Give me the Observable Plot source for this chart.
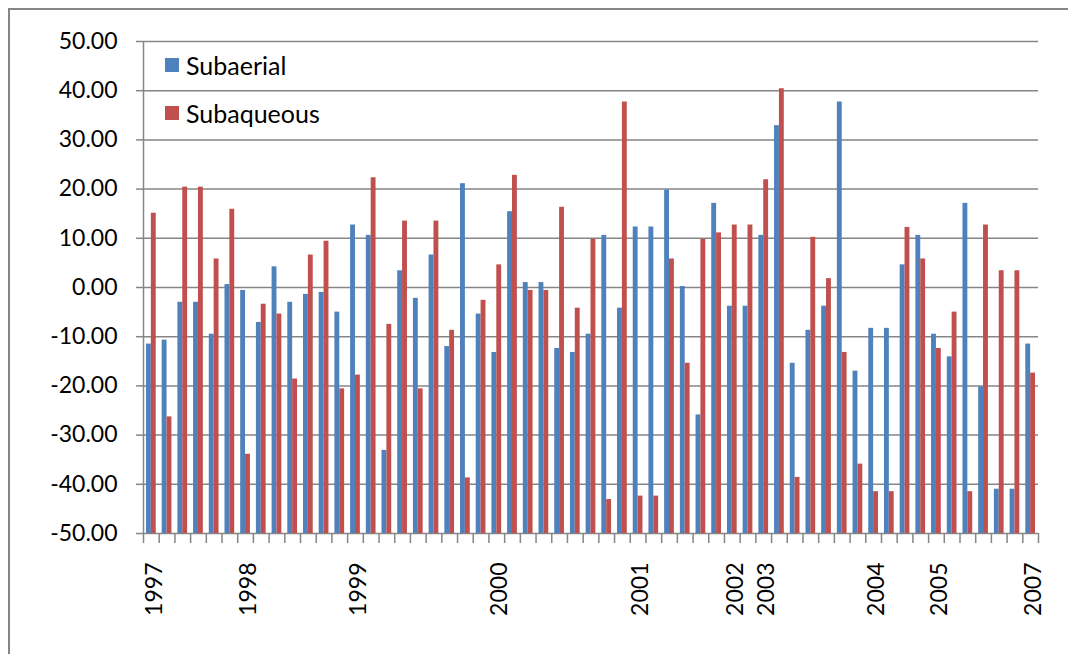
<!DOCTYPE html>
<html>
<head>
<meta charset="utf-8">
<script src="https://cdn.jsdelivr.net/npm/d3@7"></script>
<script src="https://cdn.jsdelivr.net/npm/@observablehq/plot@0.6"></script>
<style>
  html, body { margin: 0; padding: 0; background: #fff; }
  #wrap { position: relative; width: 1068px; height: 654px; overflow: hidden; background: #fff; }
  #border { position: absolute; left: 8px; top: 8px; width: 3000px; height: 3000px; border: 2px solid #868686; box-sizing: border-box; }
  #chart { position: absolute; left: 0; top: 0; }
  #legend { position: absolute; left: 165px; top: 41px; font-family: Lato, "Open Sans", sans-serif; font-size: 25px; color: #000; }
  .item { display: flex; align-items: center; height: 48px; }
  .sw { width: 14px; height: 14px; margin-right: 7px; }
</style>
</head>
<body>
<div id="wrap">
  <div id="border"></div>
  <div id="chart"></div>
  <div id="legend"></div>
</div>
<script>
// ---- data ----
const periodLabels = ["1997","","","","","","1998","","","","","","","1999","","","","","","","","","2000","","","","","","","","","2001","","","","","","2002","","2003","","","","","","","2004","","","","2005","","","","","","2007"];
const subaerial = [-11.5,-10.7,-3.0,-3.0,-9.5,0.6,-0.6,-7.1,4.2,-3.0,-1.4,-1.0,-5.0,12.7,10.6,-33.1,3.4,-2.2,6.6,-12.0,21.1,-5.4,-13.2,15.4,1.0,1.0,-12.4,-13.2,-9.5,10.6,-4.2,12.3,12.3,19.8,0.2,-25.9,17.1,-3.8,-3.8,10.6,32.9,-15.4,-8.7,-3.8,37.7,-17.0,-8.3,-8.3,4.6,10.6,-9.5,-14.1,17.1,-20.2,-41.0,-41.0,-11.5];
const subaqueous = [15.1,-26.3,20.4,20.4,5.8,15.9,-33.9,-3.4,-5.4,-18.6,6.6,9.4,-20.6,-17.8,22.3,-7.5,13.5,-20.6,13.5,-8.7,-38.7,-2.6,4.6,22.8,-0.6,-0.6,16.3,-4.2,9.8,-43.1,37.7,-42.4,-42.4,5.8,-15.4,9.8,11.1,12.7,12.7,21.9,40.4,-38.6,10.2,1.8,-13.2,-35.9,-41.5,-41.5,12.2,5.8,-12.4,-5.0,-41.5,12.7,3.4,3.4,-17.4];
const seriesNames = ["Subaerial", "Subaqueous"];
const yTicks = [-50,-40,-30,-20,-10,0,10,20,30,40,50];
const axisMin = -50, axisMax = 50;

// ---- layout ----
const W = 1068, H = 654;
const mL = 143, mR = 30, mT = 41, mB = 121;
const colors = ["#4F81BD", "#C0504D"];
const gray = "#868686";
const n = periodLabels.length;
const idx = d3.range(n);
const bw = (W - mL - mR) / n;
const barW = bw * 0.31;
const gap = (bw - 2 * barW) / 2;

const rows = idx.map(i => ({i, subaerial: subaerial[i], subaqueous: subaqueous[i]}));

const chart = Plot.plot({
  width: W, height: H,
  marginLeft: mL, marginRight: mR, marginTop: mT, marginBottom: mB,
  style: {fontFamily: "Lato, 'Open Sans', sans-serif", fontSize: "23px", background: "transparent", color: "#000"},
  x: {type: "band", domain: idx, padding: 0, axis: null, label: null},
  y: {domain: [axisMin, axisMax], axis: null, label: null},
  marks: [
    Plot.ruleY(yTicks, {stroke: gray, strokeWidth: 1.5}),
    Plot.barY(rows, {x: "i", y1: axisMin, y2: "subaerial", fill: colors[0], insetLeft: gap, insetRight: bw / 2}),
    Plot.barY(rows, {x: "i", y1: axisMin, y2: "subaqueous", fill: colors[1], insetLeft: bw / 2, insetRight: gap}),
    Plot.ruleX([0], {x: d => d, dx: -bw / 2, stroke: gray, strokeWidth: 1.5}),
    Plot.axisY({ticks: yTicks, label: null, tickSize: 7, tickPadding: 19, tickFormat: d => d.toFixed(2), stroke: gray, strokeWidth: 1.5, fill: "#000", fontSize: 23}),
    Plot.axisX({ticks: idx, label: null, tickSize: 10, tickFormat: () => "", dx: -bw / 2, stroke: gray, strokeWidth: 1.5}),
    Plot.axisX({ticks: [n - 1], label: null, tickSize: 10, tickFormat: () => "", dx: bw / 2, stroke: gray, strokeWidth: 1.5}),
    Plot.axisX({ticks: idx.filter(i => periodLabels[i] !== ""), label: null, tickSize: 0, tickPadding: 29, tickRotate: -90, tickFormat: i => periodLabels[i], dx: 3, fill: "#000", fontSize: 23})
  ]
});
document.getElementById("chart").appendChild(chart);

const legend = document.getElementById("legend");
seriesNames.forEach((name, k) => {
  const item = document.createElement("div");
  item.className = "item";
  const sw = document.createElement("span");
  sw.className = "sw";
  sw.style.background = colors[k];
  const tx = document.createElement("span");
  tx.textContent = name;
  item.appendChild(sw);
  item.appendChild(tx);
  legend.appendChild(item);
});
</script>
</body>
</html>
